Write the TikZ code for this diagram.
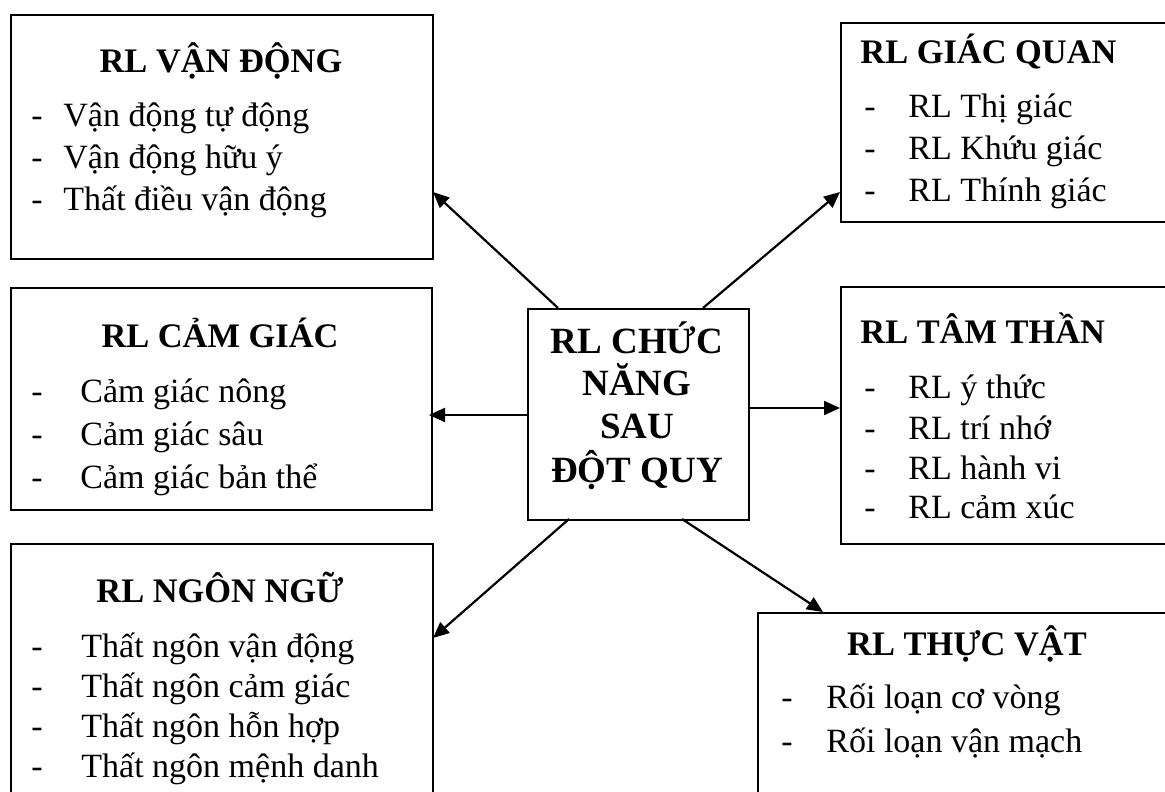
\documentclass[tikz,border=0pt]{standalone}
\usepackage{fontspec}
\setmainfont{Liberation Serif}
\usetikzlibrary{arrows.meta}
\tikzset{
  box/.style={draw, line width=1.1pt, rectangle, anchor=north west, inner sep=0pt},
  hd/.style={font=\fontsize{17.2}{20}\selectfont\bfseries, anchor=base, inner sep=0pt},
  li/.style={font=\fontsize{17}{20}\selectfont, anchor=base west, inner sep=0pt},
  arr/.style={line width=1.1pt, -{Triangle[length=8pt,width=7pt]}}
}
\begin{document}
\begin{tikzpicture}[x=0.5pt,y=-0.5pt]
\useasboundingbox (0,0) rectangle (1165,791);
\clip (0,0) rectangle (1165,791);
% boxes
\node[box, minimum width=211pt, minimum height=122pt] (vd) at (10,14){};
\node[box, minimum width=210.5pt, minimum height=111pt] (cg) at (10,287){};
\node[box, minimum width=211pt, minimum height=150pt] (nn) at (10,543){};
\node[box, minimum width=110.5pt, minimum height=105.5pt] (ctr) at (527,308){};
\node[box, minimum width=200pt, minimum height=99.5pt] (gq) at (840,22){};
\node[box, minimum width=200pt, minimum height=128.5pt] (tt) at (840,286){};
\node[box, minimum width=250pt, minimum height=150pt] (tv) at (757,612){};
% centre text
\node[hd, font=\fontsize{18.5}{20}\selectfont\bfseries] (c1) at (637,353){RL CHỨC};
\node[hd, font=\fontsize{18.5}{20}\selectfont\bfseries] (c2) at (637,395){NĂNG};
\node[hd, font=\fontsize{18.5}{20}\selectfont\bfseries] (c3) at (637,438){SAU};
\node[hd, font=\fontsize{18.5}{20}\selectfont\bfseries] (c4) at (637,482){ĐỘT QUY};
% RL van dong
\node[hd] (vdt) at (221,73){RL VẬN ĐỘNG};
\foreach \y/\t [count=\i] in {127/Vận động tự động, 169/Vận động hữu ý, 211/Thất điều vận động}{
  \node[li] (vdd\i) at (31,\y){-};
  \node[li] (vdl\i) at (63,\y){\t};
}
% RL cam giac
\node[hd] (cgt) at (220,347){RL CẢM GIÁC};
\foreach \y/\t [count=\i] in {402/Cảm giác nông, 445/Cảm giác sâu, 488/Cảm giác bản thể}{
  \node[li] (cgd\i) at (31,\y){-};
  \node[li] (cgl\i) at (80,\y){\t};
}
% RL ngon ngu
\node[hd] (nnt) at (220,602){RL NGÔN NGỮ};
\foreach \y/\t [count=\i] in {657/Thất ngôn vận động, 697/Thất ngôn cảm giác, 737/Thất ngôn hỗn hợp, 777/Thất ngôn mệnh danh}{
  \node[li] (nnd\i) at (31,\y){-};
  \node[li] (nnl\i) at (81,\y){\t};
}
% RL giac quan
\node[hd, anchor=base west] (gqt) at (860,64){RL GIÁC QUAN};
\foreach \y/\t [count=\i] in {118/RL Thị giác, 160/RL Khứu giác, 201/RL Thính giác}{
  \node[li] (gqd\i) at (864,\y){-};
  \node[li] (gql\i) at (908,\y){\t};
}
% RL tam than
\node[hd, anchor=base west] (ttt) at (860,343){RL TÂM THẦN};
\foreach \y/\t [count=\i] in {398/RL ý thức, 439/RL trí nhớ, 479/RL hành vi, 518/RL cảm xúc}{
  \node[li] (ttd\i) at (864,\y){-};
  \node[li] (ttl\i) at (908,\y){\t};
}
% RL thuc vat
\node[hd] (tvt) at (967,655){RL THỰC VẬT};
\foreach \y/\t [count=\i] in {708/Rối loạn cơ vòng, 752/Rối loạn vận mạch}{
  \node[li] (tvd\i) at (781,\y){-};
  \node[li] (tvl\i) at (826,\y){\t};
}
% arrow ends
\coordinate (s1) at (558,308);
\coordinate (e1) at (433,192);
\coordinate (s2) at (703,308);
\coordinate (e2) at (840,192);
\coordinate (s3) at (527,415);
\coordinate (e3) at (429,415);
\coordinate (s4) at (748,408);
\coordinate (e4) at (840,408);
\coordinate (s5) at (569,519);
\coordinate (e5) at (433,638);
\coordinate (s6) at (682,519);
\coordinate (e6) at (823,612);
\foreach \i in {1,...,6}
  \draw[arr] (s\i) -- (e\i);
\end{tikzpicture}
\end{document}
